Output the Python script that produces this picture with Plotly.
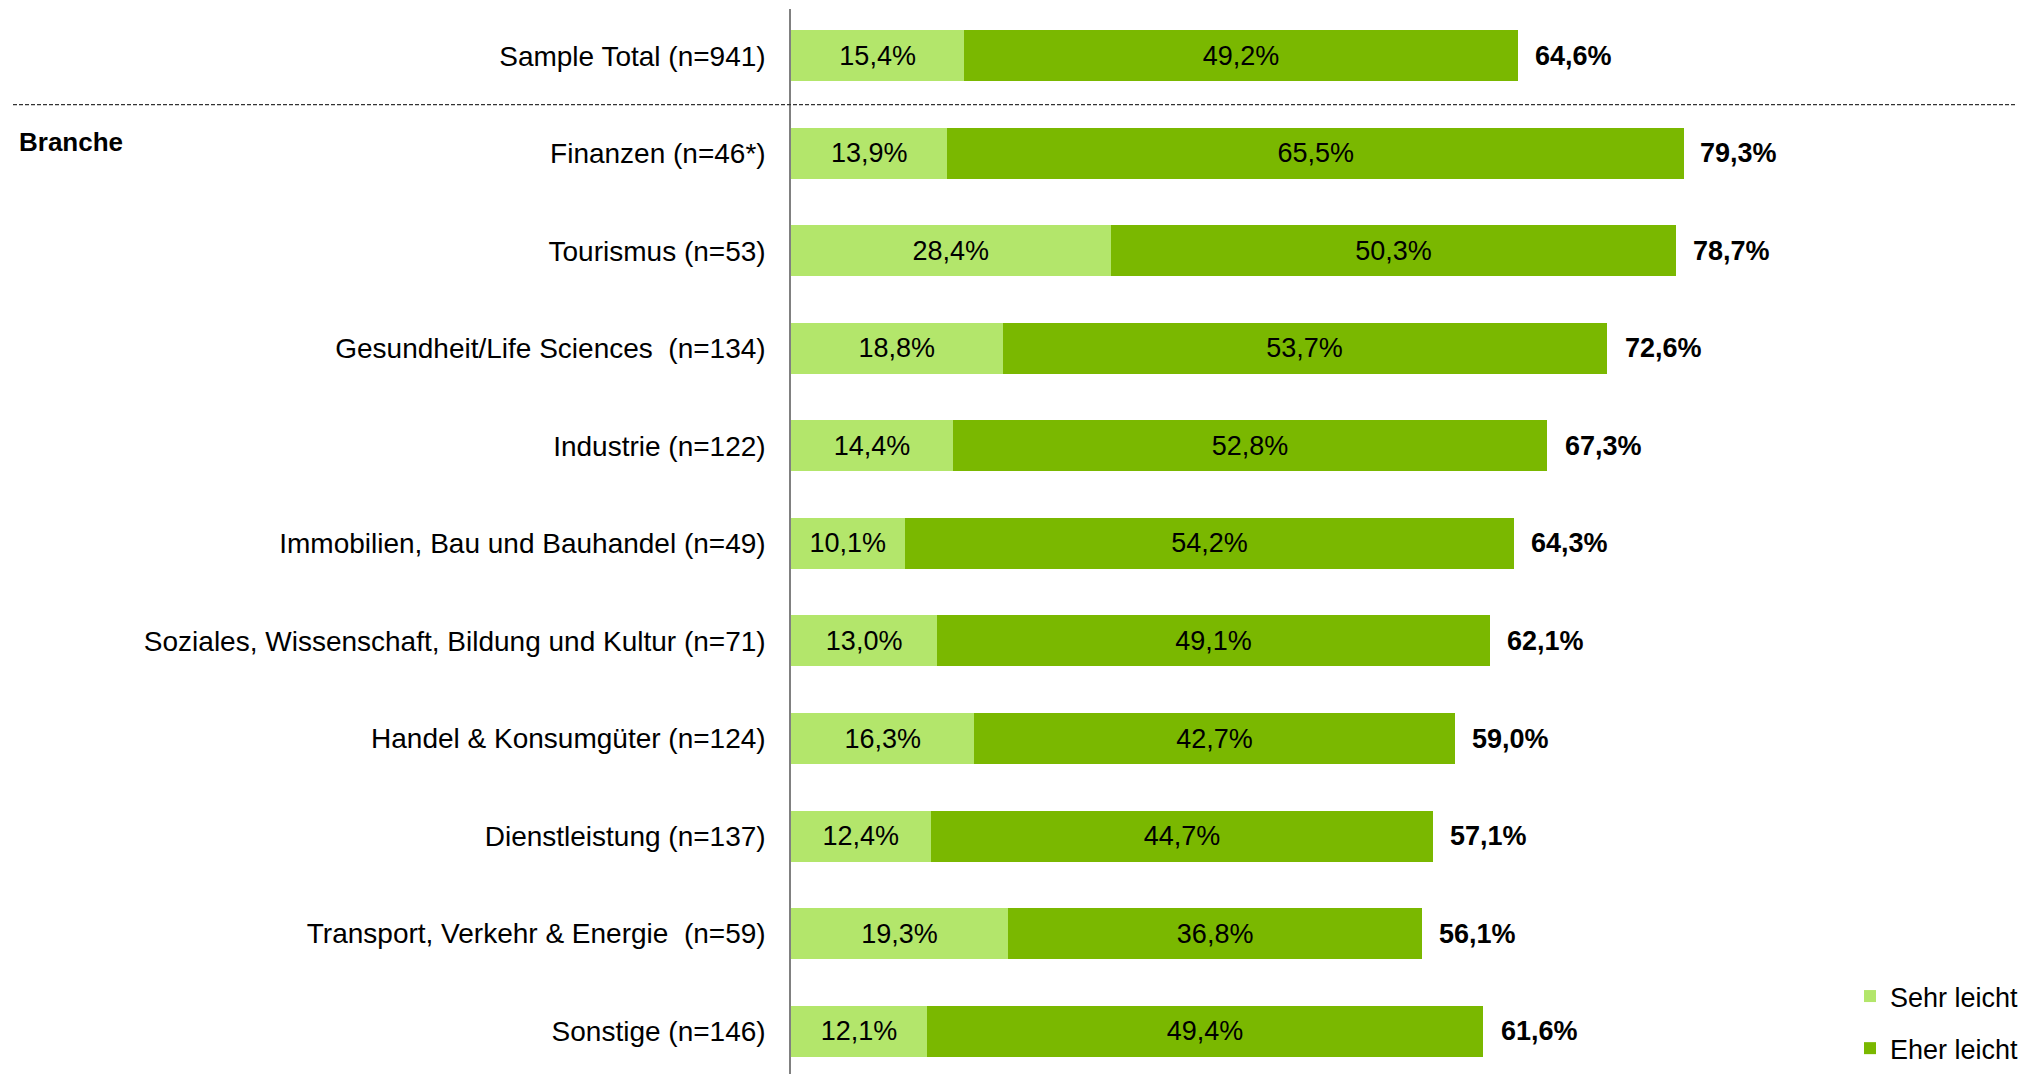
import plotly.graph_objects as go

categories = [
    "Sample Total (n=941)",
    "Finanzen (n=46*)",
    "Tourismus (n=53)",
    "Gesundheit/Life Sciences\u00a0 (n=134)",
    "Industrie (n=122)",
    "Immobilien, Bau und Bauhandel (n=49)",
    "Soziales, Wissenschaft, Bildung und Kultur (n=71)",
    "Handel & Konsumgüter (n=124)",
    "Dienstleistung (n=137)",
    "Transport, Verkehr & Energie\u00a0 (n=59)",
    "Sonstige (n=146)",
]
sehr_leicht = [15.4, 13.9, 28.4, 18.8, 14.4, 10.1, 13.0, 16.3, 12.4, 19.3, 12.1]
eher_leicht = [49.2, 65.5, 50.3, 53.7, 52.8, 54.2, 49.1, 42.7, 44.7, 36.8, 49.4]
totals = [64.6, 79.3, 78.7, 72.6, 67.3, 64.3, 62.1, 59.0, 57.1, 56.1, 61.6]
series_names = ["Sehr leicht", "Eher leicht"]
group_label = "Branche"

LIGHT = "#B3E66B"
DARK = "#7AB800"
FONT = "Liberation Sans, Arial, sans-serif"
FS = 27

W, H = 2026, 1074
ML, MR, MT, MB = 791, 110, 9, 0
PX_PER_UNIT = 11.25
xmax = (W - ML - MR) / PX_PER_UNIT


def fmt(v):
    return f"{v:.1f}".replace(".", ",") + "%"


fig = go.Figure()
for name, vals, col in [(series_names[0], sehr_leicht, LIGHT), (series_names[1], eher_leicht, DARK)]:
    fig.add_trace(go.Bar(
        y=categories, x=vals, orientation="h", name=name,
        marker=dict(color=col, line=dict(width=0)),
        text=[fmt(v) for v in vals], textposition="inside",
        insidetextanchor="middle", constraintext="none", textangle=0,
        textfont=dict(family=FONT, size=FS, color="black"),
        legendgroup=name, hoverinfo="skip",
    ))

for c, t in zip(categories, totals):
    fig.add_annotation(
        x=t, y=c, xref="x", yref="y", text="<b>" + fmt(t) + "</b>",
        showarrow=False, xanchor="left", xshift=15,
        font=dict(family=FONT, size=FS, color="black"),
    )

fig.add_annotation(
    x=(17 - ML) / (W - ML - MR), xref="paper", y=1, yref="y", yshift=11,
    text="<b>" + group_label + "</b>", showarrow=False, xanchor="left",
    font=dict(family=FONT, size=26, color="black"),
)

fig.add_shape(
    type="line", xref="paper", yref="y",
    x0=(13 - ML) / (W - ML - MR), x1=(2016 - ML) / (W - ML - MR),
    y0=0.5, y1=0.5,
    line=dict(color="#333333", width=1.2, dash="4px,2px"),
)

fig.update_layout(
    width=W, height=H,
    margin=dict(l=ML, r=MR, t=MT, b=MB),
    barmode="stack", bargap=0.477,
    plot_bgcolor="white", paper_bgcolor="white",
    font=dict(family=FONT, size=FS, color="black"),
    showlegend=True,
    legend=dict(
        x=(1850 - ML) / (W - ML - MR), xanchor="left",
        y=(H - 972) / (H - MT - MB), yanchor="top",
        traceorder="grouped", tracegroupgap=14,
        font=dict(family=FONT, size=FS, color="black"),
        bgcolor="rgba(0,0,0,0)",
    ),
    xaxis=dict(range=[0, xmax], showgrid=False, zeroline=False,
               showticklabels=False, showline=False),
    yaxis=dict(categoryorder="array", categoryarray=categories,
               range=[10.44, -0.48], showgrid=False, zeroline=False,
               showline=True, linecolor="#808080", linewidth=1.5,
               ticks="", ticklabelstandoff=18,
               tickfont=dict(family=FONT, size=28, color="black")),
)

fig.write_html(
    "out.html",
    config={"displayModeBar": False},
    post_script="document.body.style.margin='0px';document.body.style.overflow='hidden';",
)
